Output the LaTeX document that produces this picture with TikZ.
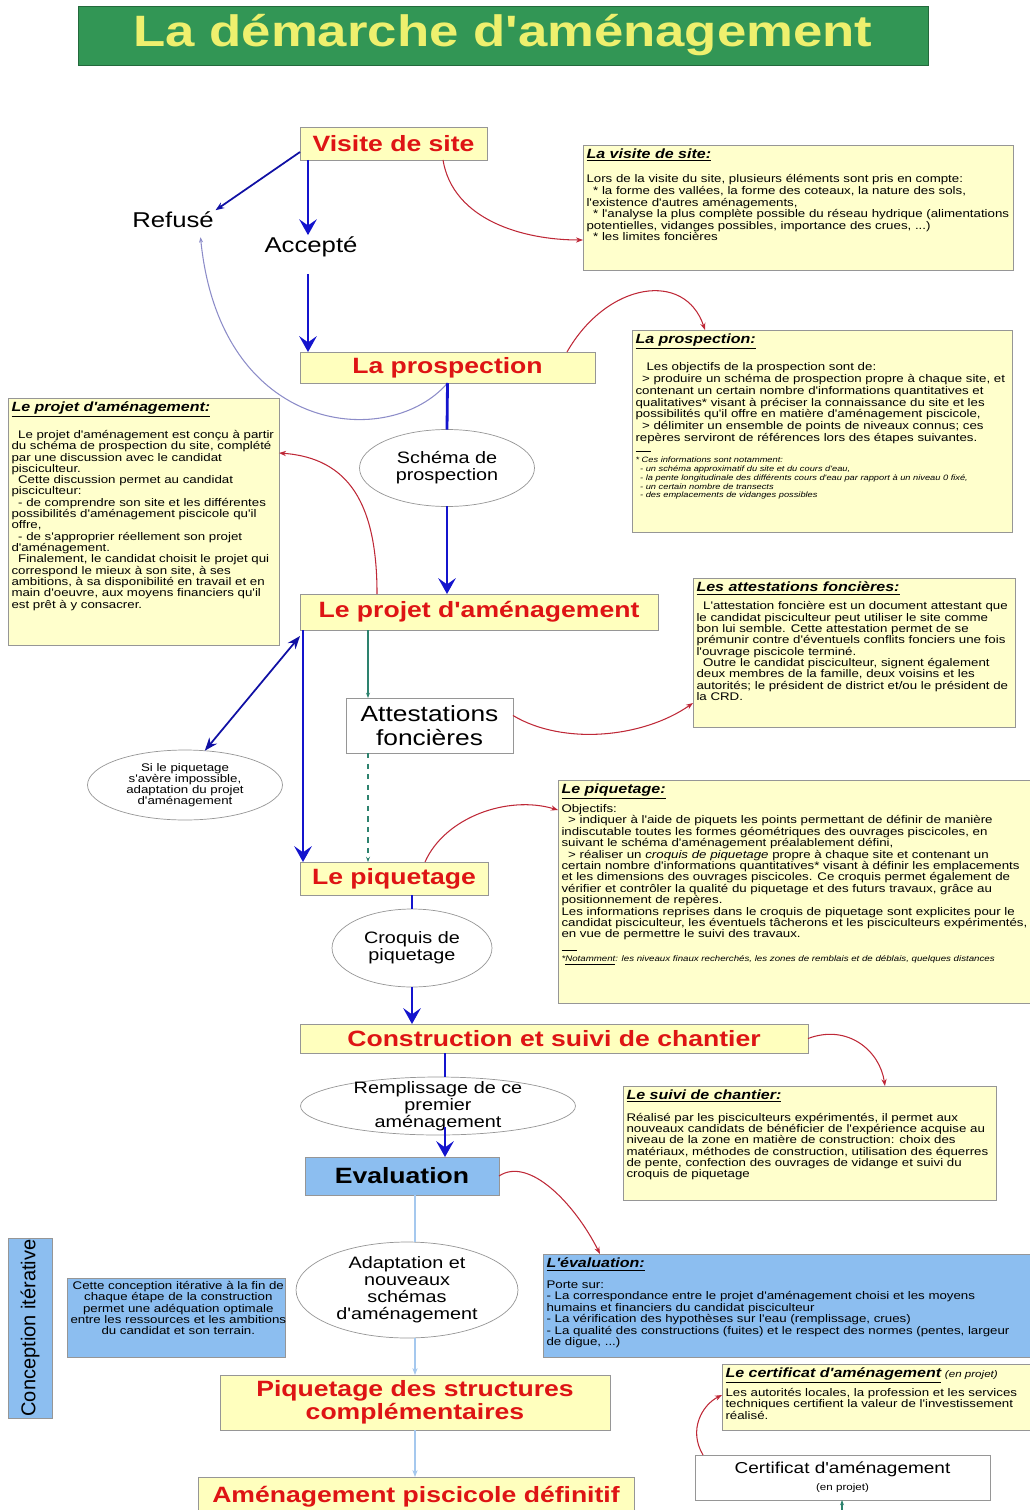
\documentclass[tikz,border=0pt]{standalone}
\usepackage{fontspec}
\setmainfont{Liberation Sans}[FakeStretch=1.2,Ligatures=TeXOff]
\newfontfamily\rotsans{Liberation Sans}[Ligatures=TeXOff]
\usetikzlibrary{arrows.meta,shapes.geometric}
\definecolor{vertTitre}{RGB}{50,150,85}
\definecolor{jauneTitre}{RGB}{238,240,110}
\definecolor{jauneBoite}{RGB}{255,255,190}
\definecolor{jauneNote}{RGB}{255,255,204}
\definecolor{bleuBoite}{RGB}{140,190,240}
\definecolor{rougeTexte}{RGB}{222,20,20}
\definecolor{bleuFlux}{RGB}{20,20,205}
\definecolor{rougeLien}{RGB}{190,40,55}
\definecolor{bleuPale}{RGB}{165,200,238}
\definecolor{vertLien}{RGB}{45,130,110}
\definecolor{grisBord}{RGB}{150,150,150}
\definecolor{violetRetour}{RGB}{140,140,200}
\newcommand{\notefont}[1]{\fontsize{6.3pt}{#1pt}\selectfont}
\newcommand{\notehead}[1]{{\fontsize{7.6pt}{8pt}\selectfont\bfseries\itshape\underline{#1}}}
\newcommand{\smallnote}{\fontsize{4.4pt}{5pt}\selectfont\itshape}
\newcommand{\ind}{\hspace*{0.6em}}
\begin{document}
\begin{tikzpicture}[x=0.02cm,y=-0.02cm,inner sep=0pt,outer sep=0pt,
etape/.style={draw=grisBord,fill=jauneBoite,text=rougeTexte,font=\fontsize{12.6pt}{13pt}\selectfont\bfseries},
etiq/.style={inner sep=1pt,font=\fontsize{12.2pt}{13pt}\selectfont},
bulle/.style={ellipse,draw=grisBord,fill=white,inner sep=-6pt,align=center,font=\fontsize{9.4pt}{9.6pt}\selectfont},
blanc/.style={draw=grisBord,fill=white,align=center},
note/.style={draw=grisBord,fill=jauneNote,anchor=north west,inner sep=2pt},
flux/.style={draw=bleuFlux,line width=1.6pt,-{Stealth[length=9pt,width=10pt,inset=3.5pt]}},
fluxtrait/.style={draw=bleuFlux,line width=1.6pt},
fluxfin/.style={draw=bleuFlux!80!black,line width=1pt,-{Stealth[length=5pt]}},
renvoi/.style={draw=rougeLien,line width=0.6pt,-{Stealth[length=4pt]}},
pale/.style={draw=bleuPale,line width=0.8pt},
lien/.style={draw=vertLien,line width=0.6pt,-{Stealth[length=3pt]}}]
\useasboundingbox (0,0) rectangle (1029,1510);
% titre
\draw (503,35.5) node[fill=vertTitre,draw=vertTitre!70!black,minimum width=17cm,minimum height=1.18cm,text=jauneTitre,font=\fontsize{25pt}{28pt}\selectfont\bfseries] (titre) {La démarche d'aménagement};
% colonnes des fleches
\coordinate (colA) at (308,0);
\coordinate (colB) at (303,0);
\coordinate (colC) at (368,0);
\coordinate (colD) at (445,0);
\coordinate (colE) at (415,0);
\coordinate (certIn) at (842,1515);
% etapes
\draw (393.5,143.5) node[etape,minimum width=3.74cm,minimum height=0.66cm] (visite) {Visite de site};
\draw (173,220) node[etiq] (refuse) {Refusé};
\draw (311,247) node[etiq] (accepte) {Accepté};
\draw (447.5,367.5) node[etape,minimum width=5.9cm,minimum height=0.62cm] (prosp) {La prospection};
\draw (447,468) node[bulle,minimum width=3.5cm,minimum height=1.54cm] (schema) {Schéma de\\prospection};
\draw (479,612) node[etape,minimum width=7.16cm,minimum height=0.72cm] (projet) {Le projet d'aménagement};
\draw (429.5,725.5) node[blanc,minimum width=3.34cm,minimum height=1.1cm,font=\fontsize{12.5pt}{13.6pt}\selectfont] (attest) {Attestations\\foncières};
\draw (185,785) node[bulle,minimum width=3.9cm,minimum height=1.4cm,font=\fontsize{6.3pt}{6.3pt}\selectfont] (siPiq) {Si le piquetage\\s'avère impossible,\\adaptation du projet\\d'aménagement};
\draw (394,878.5) node[etape,minimum width=3.76cm,minimum height=0.66cm] (piquet) {Le piquetage};
\draw (412,948) node[bulle,minimum width=3.2cm,minimum height=1.56cm] (croquis) {Croquis de\\piquetage};
\draw (554,1038.5) node[etape,minimum width=10.16cm,minimum height=0.58cm] (constr) {Construction et suivi de chantier};
\draw (438,1106) node[bulle,minimum width=5.5cm,minimum height=1.16cm] (rempl) {Remplissage de ce\\premier\\aménagement};
\draw (402,1176) node[etape,fill=bleuBoite,text=black,minimum width=3.88cm,minimum height=0.76cm] (evalu) {Evaluation};
\draw (407,1290) node[bulle,minimum width=4.44cm,minimum height=1.92cm] (adapt) {Adaptation et\\nouveaux\\schémas\\d'aménagement};
\draw (415,1402.5) node[etape,align=center,minimum width=7.8cm,minimum height=1.1cm] (piqstruct) {Piquetage des structures\\complémentaires};
\draw (416,1497) node[etape,minimum width=8.72cm,minimum height=0.8cm] (definitif) {Aménagement piscicole définitif};
\draw (842.5,1477.5) node[blanc,minimum width=5.9cm,minimum height=0.9cm,font=\fontsize{9pt}{9.5pt}\selectfont] (certif) {Certificat d'aménagement\\{\fontsize{5.5pt}{6pt}\selectfont(en projet)}};
\draw (30,1328) node[draw=grisBord,fill=bleuBoite,rotate=90,minimum width=3.6cm,minimum height=0.88cm,font=\rotsans\fontsize{11.4pt}{11.4pt}\selectfont] (iter) {Conception itérative};
% notes
\draw (583,145) node[note] (nVisite) {\parbox[c][2.36cm][t]{8.46cm}{\notefont{6.5}\begin{tabular}{@{}l@{}}
\notehead{La visite de site:}\\[7.5pt]
Lors de la visite du site, plusieurs éléments sont pris en compte:\\
\ind* la forme des vallées, la forme des coteaux, la nature des sols,\\
l'existence d'autres aménagements,\\
\ind* l'analyse la plus complète possible du réseau hydrique (alimentations\\
potentielles, vidanges possibles, importance des crues, ...)\\
\ind* les limites foncières
\end{tabular}}};
\draw (632,330) node[note] (nProsp) {\parbox[c][3.9cm][t]{7.46cm}{\notefont{6.7}\begin{tabular}{@{}l@{}}
\notehead{La prospection:}\\[9pt]
\hspace*{1em}Les objectifs de la prospection sont de:\\
\ind> produire un schéma de prospection propre à chaque site, et\\
contenant un certain nombre d'informations quantitatives et\\
qualitatives* visant à préciser la connaissance du site et les\\
possibilités qu'il offre en matière d'aménagement piscicole,\\
\ind> délimiter un ensemble de points de niveaux connus; ces\\
repères serviront de références lors des étapes suivantes.\\[-1pt]
\rule{1.4em}{0.3pt}
\end{tabular}\par
\smallnote\begin{tabular}{@{}l@{}}
* Ces informations sont notamment:\\
\ind- un schéma approximatif du site et du cours d'eau,\\
\ind- la pente longitudinale des différents cours d'eau par rapport à un niveau 0 fixé,\\
\ind- un certain nombre de transects\\
\ind- des emplacements de vidanges possibles
\end{tabular}}};
\draw (8,398) node[note] (nProjet) {\parbox[c][4.8cm][t]{5.28cm}{\notefont{6.1}\begin{tabular}{@{}l@{}}
\notehead{Le projet d'aménagement:}\\[9pt]
\ind Le projet d'aménagement est conçu à partir\\
du schéma de prospection du site, complété\\
par une discussion avec le candidat\\
pisciculteur.\\
\ind Cette discussion permet au candidat\\
pisciculteur:\\
\ind - de comprendre son site et les différentes\\
possibilités d'aménagement piscicole qu'il\\
offre,\\
\ind - de s'approprier réellement son projet\\
d'aménagement.\\
\ind Finalement, le candidat choisit le projet qui\\
correspond le mieux à son site, à ses\\
ambitions, à sa disponibilité en travail et en\\
main d'oeuvre, aux moyens financiers qu'il\\
est prêt à y consacrer.
\end{tabular}}};
\draw (693,578) node[note] (nAttest) {\parbox[c][2.84cm][t]{6.3cm}{\notefont{6.2}\begin{tabular}{@{}l@{}}
\notehead{Les attestations foncières:}\\[4pt]
\ind L'attestation foncière est un document attestant que\\
le candidat pisciculteur peut utiliser le site comme\\
bon lui semble. Cette attestation permet de se\\
prémunir contre d'éventuels conflits fonciers une fois\\
l'ouvrage piscicole terminé.\\
\ind Outre le candidat pisciculteur, signent également\\
deux membres de la famille, deux voisins et les\\
autorités; le président de district et/ou le président de\\
la CRD.
\end{tabular}}};
\draw (558,780) node[note] (nPiquet) {\parbox[c][4.32cm][t]{9.4cm}{\notefont{6.2}\begin{tabular}{@{}l@{}}
\notehead{Le piquetage:}\\[4.5pt]
Objectifs:\\
\ind> indiquer à l'aide de piquets les points permettant de définir de manière\\
indiscutable toutes les formes géométriques des ouvrages piscicoles, en\\
suivant le schéma d'aménagement préalablement défini,\\
\ind> réaliser un \textit{croquis de piquetage} propre à chaque site et contenant un\\
certain nombre d'informations quantitatives* visant à définir les emplacements\\
et les dimensions des ouvrages piscicoles. Ce croquis permet également de\\
vérifier et contrôler la qualité du piquetage et des futurs travaux, grâce au\\
positionnement de repères.\\
Les informations reprises dans le croquis de piquetage sont explicites pour le\\
candidat pisciculteur, les éventuels tâcherons et les pisciculteurs expérimentés,\\
en vue de permettre le suivi des travaux.\\[1pt]
\rule{1.4em}{0.3pt}
\end{tabular}\par
{\fontsize{4.6pt}{5pt}\selectfont\itshape *\underline{Notamment}: les niveaux finaux recherchés, les zones de remblais et de déblais, quelques distances}}};
\draw (623,1086) node[note] (nSuivi) {\parbox[c][2.14cm][t]{7.32cm}{\notefont{6.2}\begin{tabular}{@{}l@{}}
\notehead{Le suivi de chantier:}\\[6pt]
Réalisé par les pisciculteurs expérimentés, il permet aux\\
nouveaux candidats de bénéficier de l'expérience acquise au\\
niveau de la zone en matière de construction: choix des\\
matériaux, méthodes de construction, utilisation des équerres\\
de pente, confection des ouvrages de vidange et suivi du\\
croquis de piquetage
\end{tabular}}};
\draw (543,1254) node[note,fill=bleuBoite] (nEval) {\parbox[c][1.92cm][t]{9.7cm}{\notefont{6.35}\begin{tabular}{@{}l@{}}
\notehead{L'évaluation:}\\[5.5pt]
Porte sur:\\
- La correspondance entre le projet d'aménagement choisi et les moyens\\
humains et financiers du candidat pisciculteur\\
- La vérification des hypothèses sur l'eau (remplissage, crues)\\
- La qualité des constructions (fuites) et le respect des normes (pentes, largeur\\
de digue, ...)
\end{tabular}}};
\draw (722,1364) node[note] (nCertif) {\parbox[c][1.18cm][t]{6.12cm}{\notefont{6.1}\begin{tabular}{@{}l@{}}
\notehead{Le certificat d'aménagement} {\fontsize{5.5pt}{6pt}\selectfont\itshape(en projet)}\\[4.5pt]
Les autorités locales, la profession et les services\\
techniques certifient la valeur de l'investissement\\
réalisé.
\end{tabular}}};
\draw (67,1278) node[note,fill=bleuBoite] (nIter) {\parbox[c][1.44cm][t]{4.22cm}{\centering\notefont{5.8}\begin{tabular}{@{}c@{}}
Cette conception itérative à la fin de\\
chaque étape de la construction\\
permet une adéquation optimale\\
entre les ressources et les ambitions\\
du candidat et son terrain.
\end{tabular}}};
% fleches principales
\draw[flux] (visite.south -| colA) -- (accepte.north -| colA);
\draw[flux] ([yshift=-0.3cm]accepte.south -| colA) -- (prosp.north -| colA);
\draw[fluxfin] ([yshift=0.16cm]visite.south west) -- (refuse.north east);
\draw[draw=violetRetour,line width=0.6pt,-{Stealth[length=3pt]}] (prosp.south) .. controls +(-57,67) and +(20,200) .. ([xshift=-0.3cm,yshift=-0.15cm]refuse.south east);
\draw[fluxtrait] (prosp.south) -- (schema.north);
\draw[flux] (schema.south) -- (projet.north -| schema.south);
\draw[flux] (projet.south -| colB) -- (piquet.north -| colB);
\draw[lien] (projet.south -| colC) -- (attest.north -| colC);
\draw[lien,dashed] (attest.south -| colC) -- (piquet.north -| colC);
\draw[fluxfin,Stealth-Stealth] (siPiq.60) -- ([yshift=-0.12cm]projet.south west);
\draw[fluxtrait] (piquet.south -| croquis.north) -- (croquis.north);
\draw[flux] (croquis.south) -- (constr.north -| croquis.south);
\draw[fluxtrait] (constr.south -| colD) -- (rempl.north -| colD);
\draw[flux] ([yshift=0.16cm]rempl.south -| colD) -- (evalu.north -| colD);
\draw[pale] (evalu.south -| colE) -- (adapt.north -| colE);
\draw[pale,-{Stealth[length=4pt]}] (adapt.south -| colE) -- (piqstruct.north -| colE);
\draw[pale,-{Stealth[length=4pt]}] (piqstruct.south -| colE) -- (definitif.north -| colE);
\draw[lien] (certIn) -- (certif.south -| certIn);
% renvois vers les notes
\draw[renvoi] ([xshift=-0.88cm]visite.south east) .. controls +(10,60) and +(-60,0) .. ([yshift=-0.65cm]nVisite.west);
\draw[renvoi] ([xshift=-0.56cm]prosp.north east) .. controls +(40,-70) and +(-20,-60) .. ([xshift=1.46cm]nProsp.north west);
\draw[renvoi] ([xshift=1.54cm]projet.north west) .. controls +(0,-90) and +(70,5) .. ([yshift=1.37cm]nProjet.east);
\draw[renvoi] ([yshift=0.2cm]attest.east) .. controls +(50,30) and +(-50,35) .. ([yshift=-1.01cm]nAttest.west);
\draw[renvoi] ([xshift=2.5cm]piquet.north west) .. controls +(20,-45) and +(-50,-15) .. ([yshift=-0.6cm]nPiquet.north west);
\draw[renvoi] (constr.east) .. controls +(40,-15) and +(-5,-35) .. ([xshift=5.24cm]nSuivi.north west);
\draw[renvoi] (evalu.east) .. controls +(30,-20) and +(-25,-50) .. ([xshift=1.14cm]nEval.north west);
\draw[renvoi] ([xshift=0.16cm]certif.north west) .. controls +(-15,-25) and +(-20,10) .. ([yshift=-0.62cm]nCertif.north west);
\end{tikzpicture}
\end{document}
